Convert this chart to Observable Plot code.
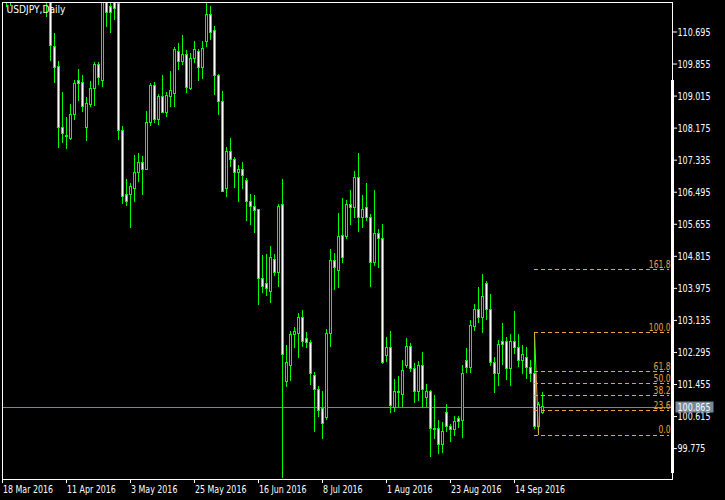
<!DOCTYPE html>
<html>
<head>
<meta charset="utf-8">
<script src="https://cdn.jsdelivr.net/npm/d3@7"></script>
<script src="https://cdn.jsdelivr.net/npm/@observablehq/plot@0.6"></script>
<style>
html, body { margin: 0; padding: 0; background: #000; }
</style>
</head>
<body>
<div id="chart"></div>
<script>
// ---- data (bar index 0 = 18 Mar 2016, one bar per trading day) ----
const symbol = "USDJPY,Daily";
const idx = [
  1, 2,
  11, 12, 13, 14, 15, 16, 17, 18, 19, 20,
  21, 22, 23, 24, 25, 26, 27, 28, 29, 30,
  31, 32, 33, 34, 35, 36, 37, 38, 39, 40,
  41, 42, 43, 44, 45, 46, 47, 48, 49, 50,
  51, 52, 53, 54, 55, 56, 57, 58, 59, 60,
  61, 62, 63, 64, 65, 66, 67, 68, 69, 70,
  71, 72, 73, 74, 75, 76, 77, 78, 79, 80,
  81, 82, 83, 84, 85, 86, 87, 88, 89, 90,
  91, 92, 93, 94, 95, 96, 97, 98, 99, 100,
  101, 102, 103, 104, 105, 106, 107, 108, 109, 110,
  111, 112, 113, 114, 115, 116, 117, 118, 119, 120,
  121, 122, 123, 124, 125, 126, 127, 128, 129, 130,
  131, 132, 133, 134, 135
];
const open = [
  111.55, 111.90,
  111.70, 111.60, 110.31, 109.79, 108.19, 107.98, 107.90, 108.51, 109.42, 109.37,
  108.19, 108.77, 109.19, 109.82, 109.42, 111.75, 111.34, 111.50, 111.42, 108.09,
  106.41, 106.41, 106.57, 106.99, 107.25, 107.09, 108.30, 109.27, 108.40, 108.98,
  108.58, 108.98, 109.08, 110.16, 109.92, 110.10, 109.21, 110.00, 110.16, 109.74,
  110.42, 111.13, 110.71, 109.53, 108.87, 106.57, 107.54, 107.35, 106.99, 107.09,
  106.80, 106.23, 106.12, 106.02, 104.23, 104.10, 103.87, 104.73, 104.39, 106.15,
  101.51, 101.93, 102.74, 102.77, 103.21, 102.64, 102.53, 101.69, 101.30, 100.80,
  100.59, 102.79, 104.68, 104.42, 105.36, 105.33, 106.15, 106.09, 106.88, 105.81,
  106.09, 105.81, 104.63, 105.39, 105.26, 102.19, 102.40, 100.85, 101.22, 101.19,
  101.93, 102.45, 101.87, 101.25, 101.93, 101.11, 101.27, 100.30, 100.28, 99.88,
  100.70, 100.33, 100.25, 100.54, 100.49, 102.08, 101.90, 102.95, 103.42, 103.21,
  104.08, 103.42, 102.01, 101.74, 102.58, 102.56, 101.85, 102.56, 102.40, 102.06,
  102.14, 101.90, 101.72, 100.33, 100.72
];
const high = [
  112.15, 112.40,
  111.90, 111.75, 110.66, 109.92, 109.11, 108.45, 108.79, 109.42, 109.71, 109.55,
  108.98, 109.40, 109.90, 109.90, 111.85, 111.95, 111.60, 111.70, 111.60, 108.22,
  106.83, 106.72, 107.46, 107.51, 107.43, 108.61, 109.34, 109.37, 109.06, 109.55,
  109.11, 109.66, 110.29, 110.39, 110.60, 110.21, 110.13, 110.45, 110.24, 110.45,
  111.50, 111.36, 110.84, 109.58, 109.13, 107.67, 107.90, 107.41, 107.20, 107.27,
  106.85, 106.44, 106.41, 106.04, 104.84, 104.86, 105.07, 104.86, 106.17, 106.83,
  102.48, 102.84, 102.95, 103.32, 103.39, 102.82, 102.61, 101.77, 101.40, 101.27,
  102.90, 104.99, 104.89, 105.94, 106.33, 106.28, 106.54, 107.04, 107.51, 106.41,
  106.72, 105.91, 106.54, 105.52, 105.65, 102.69, 102.84, 101.59, 101.66, 102.08,
  102.66, 102.53, 102.01, 102.06, 102.29, 101.46, 101.30, 101.17, 100.51, 100.46,
  100.93, 100.41, 100.62, 100.62, 101.95, 102.40, 103.13, 103.55, 104.00, 104.34,
  104.15, 103.81, 102.16, 102.61, 103.05, 102.69, 102.77, 103.37, 102.77, 102.48,
  102.43, 102.08, 102.81, 100.98, 101.25
];
const low = [
  111.34, 111.36,
  111.07, 109.92, 109.34, 107.64, 107.77, 107.62, 107.85, 108.37, 108.87, 108.58,
  107.82, 108.72, 108.74, 109.29, 109.24, 110.81, 110.66, 111.00, 107.85, 106.17,
  106.12, 105.54, 106.23, 106.75, 106.41, 107.06, 108.22, 108.30, 108.24, 108.56,
  108.45, 108.72, 108.72, 109.69, 109.82, 109.08, 109.16, 109.87, 109.40, 109.45,
  110.29, 110.47, 109.03, 108.51, 106.49, 106.36, 107.14, 106.59, 106.23, 106.57,
  105.73, 105.62, 105.41, 103.53, 103.84, 103.76, 103.58, 104.29, 104.00, 98.99,
  101.38, 101.53, 102.40, 102.14, 102.43, 102.40, 101.43, 100.20, 100.59, 100.01,
  100.51, 102.43, 103.92, 103.97, 104.63, 105.26, 105.62, 105.81, 105.44, 105.54,
  105.73, 104.00, 104.55, 104.50, 101.98, 102.03, 100.70, 100.72, 100.85, 100.85,
  101.87, 101.77, 100.96, 101.01, 100.83, 100.85, 99.54, 100.01, 99.62, 99.65,
  100.20, 99.94, 100.09, 100.30, 100.04, 101.74, 101.74, 102.84, 103.05, 102.79,
  103.13, 101.93, 101.22, 101.40, 101.95, 101.56, 101.40, 102.24, 101.90, 101.72,
  101.59, 101.51, 100.28, 100.13, 100.67
];
const close = [
  111.90, 112.30,
  111.60, 110.34, 109.76, 108.17, 108.03, 107.93, 108.53, 109.34, 109.34, 108.72,
  108.82, 109.19, 109.82, 109.48, 111.75, 111.18, 111.18, 111.31, 108.09, 106.36,
  106.23, 106.62, 106.99, 107.27, 107.09, 108.32, 109.27, 108.40, 109.00, 108.58,
  109.03, 109.14, 110.21, 109.92, 110.10, 109.24, 110.00, 110.21, 109.74, 110.26,
  111.13, 110.68, 109.53, 108.85, 106.51, 107.56, 107.35, 106.99, 107.09, 106.91,
  106.23, 106.10, 105.99, 104.23, 104.02, 103.95, 104.76, 104.37, 106.12, 102.22,
  102.01, 102.74, 102.84, 103.19, 102.56, 102.53, 101.74, 101.30, 100.75, 100.41,
  102.79, 104.68, 104.50, 105.33, 104.78, 106.15, 106.09, 106.88, 105.81, 106.04,
  105.81, 104.63, 105.39, 105.26, 102.03, 102.40, 100.88, 101.25, 101.25, 101.80,
  102.45, 101.87, 101.25, 101.95, 101.30, 101.27, 100.30, 100.25, 99.88, 100.22,
  100.33, 100.25, 100.46, 100.46, 101.74, 101.90, 102.98, 103.42, 103.21, 103.76,
  103.42, 102.01, 101.74, 102.50, 102.50, 101.85, 102.56, 102.40, 102.06, 102.24,
  101.90, 101.72, 100.33, 100.93, 100.865
];
const yTicks = [110.695, 109.855, 109.015, 108.175, 107.335, 106.495, 105.655,
                104.815, 103.975, 103.135, 102.295, 101.455, 100.615, 99.775];
const dateTickIdx = [0, 16, 32, 48, 64, 80, 96, 112, 128];
const dateTickLabels = ["18 Mar 2016", "11 Apr 2016", "3 May 2016", "25 May 2016",
  "16 Jun 2016", "8 Jul 2016", "1 Aug 2016", "23 Aug 2016", "14 Sep 2016"];
const fibLevels = [0, 23.6, 38.2, 50, 61.8, 100, 161.8];
const fibHigh = 102.81, fibLow = 100.13;
const fibStartIdx = 133, fibLowIdx = 134, fibEndIdx = 166.75;
const lastPrice = 100.865;
const scaleBar = [109.42, 99.12];
const xDomain = [0, 167.5];
const yDomain = [98.965, 111.468];

// ---- derived tables ----
const bars = idx.map((k, i) => ({k, o: open[i], h: high[i], l: low[i], c: close[i]}));
const bull = bars.filter(d => d.c > d.o);
const bear = bars.filter(d => !(d.c > d.o));
const fib = fibLevels.map(l => ({price: fibLow + (fibHigh - fibLow) * l / 100, label: l.toFixed(1)}));

const LIME = "#00ff00", ORANGE = "#eba43a", BID = "#778899";
const font = '"Liberation Sans Narrow","DejaVu Sans Condensed","Arial Narrow",sans-serif';

const chart = Plot.plot({
  width: 725, height: 500,
  marginLeft: 2, marginTop: 2, marginRight: 53, marginBottom: 21,
  style: {background: "#000", color: "#fff", fontFamily: font, fontSize: "11px"},
  x: {type: "linear", domain: xDomain, axis: "bottom", ticks: dateTickIdx, tickFormat: () => "", tickSize: 4, label: null},
  y: {type: "linear", domain: yDomain, axis: "right", ticks: yTicks, tickFormat: d => d.toFixed(3), tickSize: 4, tickPadding: 1, label: null},
  marks: [
    Plot.ruleY([lastPrice], {stroke: BID, clip: true, shapeRendering: "crispEdges"}),
    Plot.ruleX(bars, {x: "k", y1: "l", y2: "h", stroke: LIME, clip: true, shapeRendering: "crispEdges"}),
    Plot.rect(bull, {x1: d => d.k - 0.25, x2: d => d.k + 0.25, y1: "o", y2: "c", fill: "#000", stroke: LIME, clip: true, shapeRendering: "crispEdges"}),
    Plot.rect(bear, {x1: d => d.k - 0.25, x2: d => d.k + 0.25, y1: "o", y2: "c", fill: "#fff", stroke: LIME, clip: true, shapeRendering: "crispEdges"}),
    Plot.ruleY(fib, {y: "price", x1: () => fibStartIdx, x2: () => fibEndIdx, stroke: ORANGE, strokeDasharray: "4,3", shapeRendering: "crispEdges"}),
    Plot.link([{a: fibStartIdx, b: fibLowIdx}], {x1: d => d.a, y1: () => fibHigh, x2: d => d.b, y2: () => fibLow, stroke: ORANGE}),
    Plot.text(fib, {x: () => fibEndIdx, y: "price", text: "label", textAnchor: "end", lineAnchor: "bottom", dy: -2, dx: 1, fill: ORANGE}),
    Plot.text([symbol], {frameAnchor: "top-left", dx: 4, dy: 3, lineAnchor: "top", textAnchor: "start", fill: "#fff"}),
    Plot.ruleX([xDomain[1]], {y1: () => scaleBar[0], y2: () => scaleBar[1], stroke: "#fff", strokeWidth: 3, shapeRendering: "crispEdges"}),
    Plot.frame({stroke: "#fff", shapeRendering: "crispEdges"}),
    Plot.text(dateTickLabels, {x: (d, i) => dateTickIdx[i], text: d => d, frameAnchor: "bottom", dy: 10, dx: 0.5, textAnchor: "start", lineAnchor: "middle", fill: "#fff"}),
    Plot.text([lastPrice], {y: d => d, text: d => d.toFixed(3), frameAnchor: "right", dx: 5, textAnchor: "start", fill: "#fff"})
  ]
});

document.getElementById("chart").append(chart);

const svgEl = chart.tagName.toLowerCase() === "svg" ? chart : chart.querySelector("svg");
const texts = Array.from(svgEl.querySelectorAll("text"));

// condense the glyphs so the texts take the widths the reference shows
const naturalWidth = s => {
  const t = texts.find(e => e.textContent === s);
  return t ? t.getComputedTextLength() : null;
};
const fitGroups = [
  {sample: "110.695", target: 33, match: s => /^\d+\.\d{3}$/.test(s)},
  {sample: "18 Mar 2016", target: 50, match: s => dateTickLabels.includes(s)},
  {sample: symbol, target: 59, match: s => s === symbol},
  {sample: "161.8", target: 21.7, match: s => fib.some(f => f.label === s)}
];
for (const g of fitGroups) {
  const nat = naturalWidth(g.sample);
  if (!nat) continue;
  const k = g.target / nat;
  for (const t of texts) {
    const s = t.textContent;
    if (!g.match(s)) continue;
    const len = t.getComputedTextLength() * k;
    t.setAttribute("textLength", len.toFixed(2));
    t.setAttribute("lengthAdjust", "spacingAndGlyphs");
  }
}

// grey box behind the last-price label
for (const t of texts) {
  if (t.textContent !== lastPrice.toFixed(3)) continue;
  if (t.closest('[aria-label*="axis"]')) continue;
  const b = t.getBBox();
  const len = parseFloat(t.getAttribute("textLength")) || b.width;
  const cy = b.y + b.height / 2;
  const r = document.createElementNS("http://www.w3.org/2000/svg", "rect");
  const tr = t.getAttribute("transform");
  if (tr) r.setAttribute("transform", tr);
  r.setAttribute("x", b.x - 2);
  r.setAttribute("y", cy - 5.5);
  r.setAttribute("width", len + 5);
  r.setAttribute("height", 11);
  r.setAttribute("fill", BID);
  t.parentNode.insertBefore(r, t);
}
</script>
</body>
</html>
